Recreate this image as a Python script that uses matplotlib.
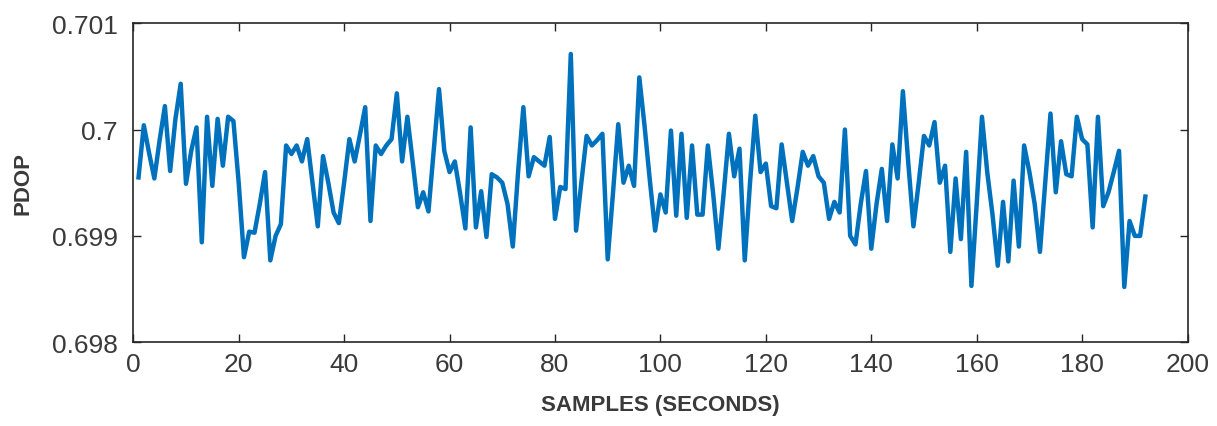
import numpy as np
import matplotlib
matplotlib.use("Agg")
import matplotlib.pyplot as plt

# ---- data ----
pdop = [
    0.69955, 0.70004, 0.69978, 0.69954, 0.69990, 0.70022, 0.69961, 0.70010, 0.70043, 0.69949,
    0.69980, 0.70002, 0.69894, 0.70012, 0.69947, 0.70010, 0.69966, 0.70012, 0.70008, 0.69950,
    0.69880, 0.69904, 0.69903, 0.69930, 0.69960, 0.69877, 0.69900, 0.69911, 0.69985, 0.69977,
    0.69985, 0.69970, 0.69991, 0.69950, 0.69909, 0.69975, 0.69950, 0.69922, 0.69912, 0.69950,
    0.69991, 0.69970, 0.69995, 0.70021, 0.69914, 0.69985, 0.69977, 0.69985, 0.69991, 0.70034,
    0.69970, 0.70012, 0.69970, 0.69927, 0.69941, 0.69923, 0.69980, 0.70038, 0.69980, 0.69960,
    0.69970, 0.69940, 0.69907, 0.70002, 0.69908, 0.69942, 0.69899, 0.69958, 0.69955, 0.69950,
    0.69930, 0.69890, 0.69960, 0.70021, 0.69956, 0.69974, 0.69970, 0.69966, 0.69993, 0.69916,
    0.69946, 0.69944, 0.70071, 0.69905, 0.69950, 0.69994, 0.69985, 0.69990, 0.69996, 0.69878,
    0.69940, 0.70005, 0.69950, 0.69966, 0.69947, 0.70049, 0.70003, 0.69952, 0.69905, 0.69939,
    0.69922, 0.69999, 0.69919, 0.69996, 0.69917, 0.69985, 0.69920, 0.69920, 0.69985, 0.69940,
    0.69888, 0.69940, 0.69996, 0.69956, 0.69982, 0.69877, 0.69950, 0.70013, 0.69960, 0.69968,
    0.69928, 0.69926, 0.69986, 0.69950, 0.69914, 0.69945, 0.69979, 0.69966, 0.69975, 0.69956,
    0.69950, 0.69916, 0.69932, 0.69922, 0.70000, 0.69900, 0.69892, 0.69930, 0.69961, 0.69888,
    0.69930, 0.69963, 0.69914, 0.69986, 0.69954, 0.70036, 0.69970, 0.69909, 0.69950, 0.69994,
    0.69985, 0.70007, 0.69950, 0.69966, 0.69885, 0.69954, 0.69897, 0.69979, 0.69853, 0.69930,
    0.70012, 0.69960, 0.69920, 0.69872, 0.69932, 0.69876, 0.69952, 0.69890, 0.69985, 0.69960,
    0.69930, 0.69885, 0.69950, 0.70015, 0.69941, 0.69989, 0.69958, 0.69956, 0.70012, 0.69991,
    0.69986, 0.69908, 0.70012, 0.69928, 0.69941, 0.69960, 0.69980, 0.69852, 0.69914, 0.69900,
    0.69900, 0.69937,
]
samples = np.arange(1, len(pdop) + 1)

x_ticks = [0, 20, 40, 60, 80, 100, 120, 140, 160, 180, 200]
y_ticks = [0.698, 0.699, 0.700, 0.701]
y_tick_labels = ["0.698", "0.699", "0.7", "0.701"]
x_label = "SAMPLES (SECONDS)"
y_label = "PDOP"

plt.rcParams["font.family"] = ["Liberation Sans", "DejaVu Sans"]

fig = plt.figure(figsize=(12.17, 4.27), dpi=100)
ax = fig.add_axes([0.1095, 0.196, 0.8663, 0.7475])

ax.plot(samples, pdop, color="#0072BD", linewidth=3.2, solid_joinstyle="round")

ax.set_xlim(0, 200)
ax.set_ylim(0.698, 0.701)
ax.set_xticks(x_ticks)
ax.set_xticklabels([str(t) for t in x_ticks])
ax.set_yticks(y_ticks)
ax.set_yticklabels(y_tick_labels)

text_col = "#3a3a3a"
ax.tick_params(direction="in", length=6, width=1.0, top=True, right=True,
               labelsize=19, colors="#262626", labelcolor=text_col)
ax.tick_params(axis="x", pad=7)
ax.tick_params(axis="y", pad=11)
for s in ax.spines.values():
    s.set_linewidth(1.2)
    s.set_color("#262626")

ax.set_xlabel(x_label, fontsize=16, fontweight="bold", color=text_col, labelpad=13)
ax.set_ylabel(y_label, fontsize=16, fontweight="bold", color=text_col, labelpad=13)

fig.savefig("out.png", dpi=100)
